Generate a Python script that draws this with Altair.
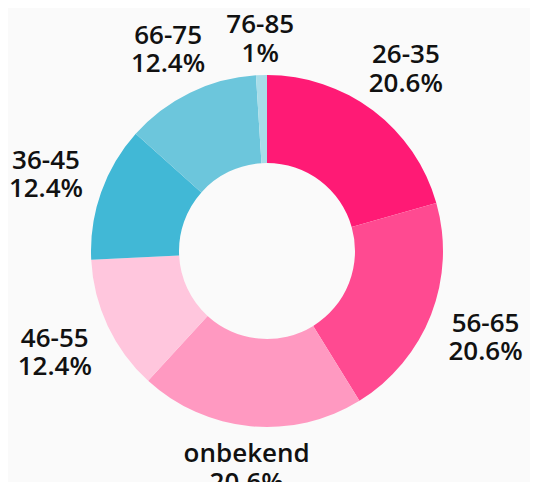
import altair as alt
import pandas as pd

categories = ["26-35", "56-65", "onbekend", "46-55", "36-45", "66-75", "76-85"]
values = [20.6, 20.6, 20.6, 12.4, 12.4, 12.4, 1]
colors = ["#ff1a75", "#ff4a91", "#ff99c1", "#ffc6dd", "#41b8d6", "#6cc6dc", "#a8dde9"]

df = pd.DataFrame({"cat": categories, "value": values, "idx": list(range(len(categories)))})

CX, CY = 259, 243

base = alt.Chart(df)

arcs = base.mark_arc(outerRadius=176, innerRadius=88).encode(
    theta=alt.Theta("value:Q", stack=True),
    order=alt.Order("idx:Q"),
    color=alt.Color("cat:N", scale=alt.Scale(domain=categories, range=colors), legend=None),
    x=alt.value(CX),
    y=alt.value(CY),
)

labels = base.transform_joinaggregate(
    total="sum(value)"
).transform_window(
    cum="sum(value)", sort=[alt.SortField("idx")], frame=[None, 0]
).transform_calculate(
    mid="(datum.cum - datum.value / 2) / datum.total * 2 * PI",
    lr="197 + 34 * abs(sin(datum.mid)) + 16 * abs(cos(datum.mid))",
    label="datum.cat + '\\n' + datum.value + '%'",
).mark_text(
    font="Open Sans", fontWeight=600, fontSize=26, lineBreak="\n", lineHeight=28.5,
    align="center", baseline="middle", color="#111111", dy=-12,
).encode(
    theta=alt.Theta("mid:Q", scale=None, stack=None),
    radius=alt.Radius("lr:Q", scale=None),
    text="label:N",
    x=alt.value(CX),
    y=alt.value(CY),
)

chart = alt.layer(arcs, labels).properties(
    width=522, height=474, padding=0, autosize=alt.AutoSizeParams(type="none"),
    background="#fafafa",
).configure_view(stroke=None)

chart.save("out.html", embed_options={"renderer": "svg", "actions": False})
